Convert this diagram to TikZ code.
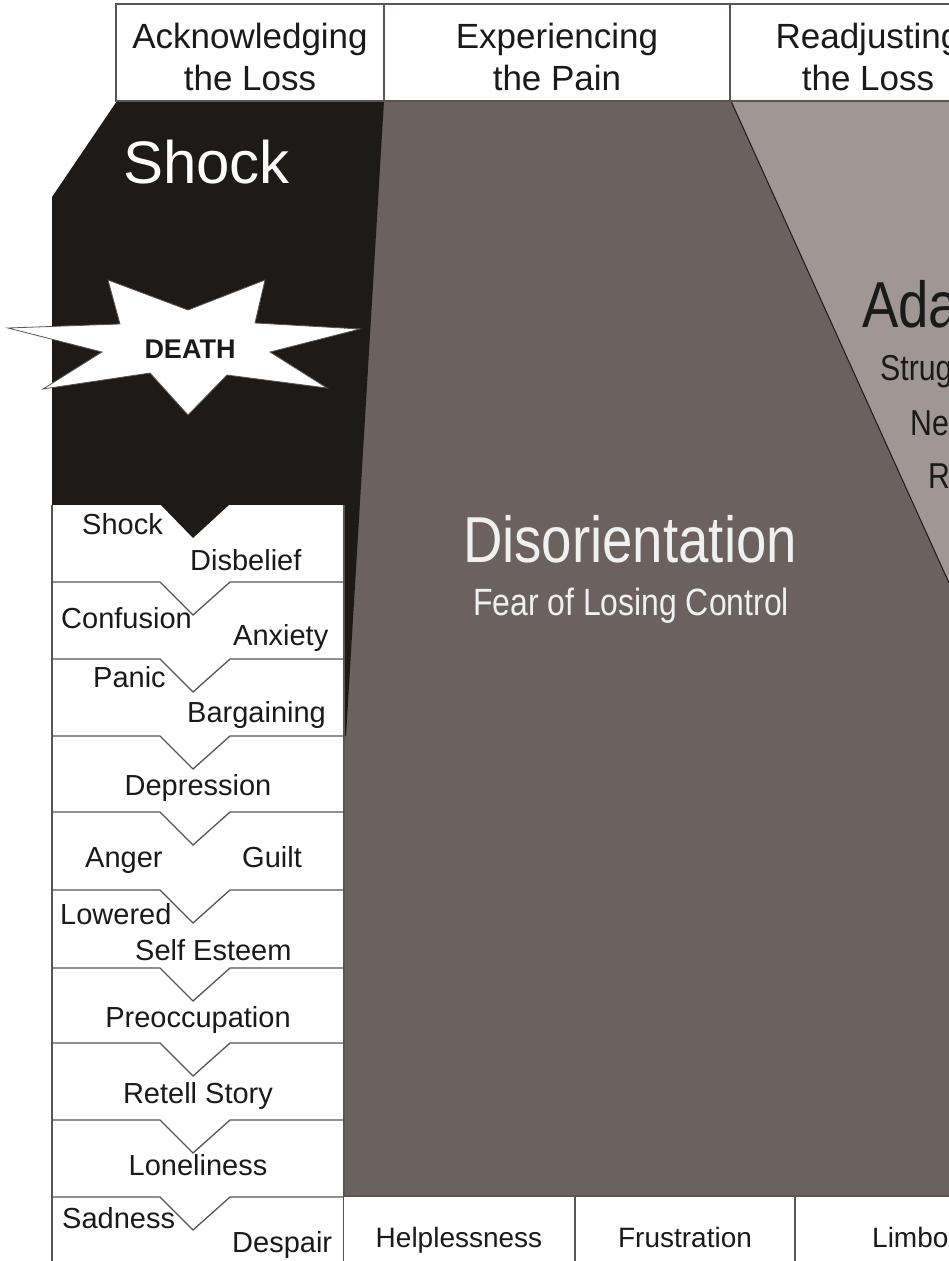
\documentclass[tikz,border=0pt]{standalone}
\usepackage{fontspec}
\setmainfont{Liberation Sans}
\newfontfamily\narrowfont[FakeStretch=0.84]{Liberation Sans}
\usepackage{xcolor}
\definecolor{shockblack}{HTML}{1E1A18}
\definecolor{disorgrey}{HTML}{6B625F}
\definecolor{adaptgrey}{HTML}{A09694}
\definecolor{rulegrey}{HTML}{5A5453}
\definecolor{inkblack}{HTML}{1A1A1A}

\begin{document}
\begin{tikzpicture}[x=1pt,y=-1pt,
    rule/.style={draw=rulegrey,line width=1.3pt},
    headtext/.style={inner sep=0pt,anchor=north,align=center,font=\fontsize{35}{42}\selectfont,text=inkblack},
    listtext/.style={inner sep=0pt,anchor=base west,font=\fontsize{29}{34}\selectfont,text=inkblack},
    rowtext/.style={inner sep=0pt,anchor=base,font=\fontsize{28}{34}\selectfont,text=inkblack},
    bigtext/.style={inner sep=0pt,anchor=base,font=\narrowfont\fontsize{65}{70}\selectfont},
    subtext/.style={inner sep=0pt,anchor=base,font=\narrowfont\fontsize{38}{44}\selectfont}]
        \newcommand{\listleft}{52}
        \newcommand{\listright}{344}
        \newcommand{\notchleft}{160}
        \newcommand{\notchtip}{193}
        \newcommand{\notchright}{230}
        \newcommand{\notchdepth}{33}
        \newcommand{\headbottom}{101}
        \newcommand{\rowtop}{1196}
        \useasboundingbox (0,0) rectangle (949,1261);
        \clip (0,0) rectangle (949,1261);
        % stage areas
        \fill[disorgrey] (\listright,\headbottom) rectangle (949,\rowtop);
        \fill[adaptgrey] (731,\headbottom) -- (949,\headbottom) -- (949,583) -- cycle;
        \draw[inkblack,line width=1pt] (731,\headbottom) -- (949,583);
        \fill[shockblack] (117,\headbottom) -- (384,\headbottom) -- (346,736) -- (\listleft,736) -- (\listleft,197) -- cycle;
        % header
        \fill[white] (116,4) rectangle (1000,\headbottom);
        \draw[rule] (1000,4) -- (116,4) -- (116,\headbottom) -- (1000,\headbottom);
        \draw[rule] (384,4) -- (384,\headbottom);
        \draw[rule] (730,4) -- (730,\headbottom);
        \node[headtext] (acknowledge) at (250,23) {Acknowledging\\the Loss};
        \node[headtext] (experience) at (557,23) {Experiencing\\the Pain};
        \node[headtext] (readjust) at (868,23) {Readjusting\\the Loss};
        % shock and the star
        \node[inner sep=0pt,anchor=base west,font=\fontsize{60}{66}\selectfont,text=white] (shocktitle) at (123,183) {Shock};
        \draw[fill=white,draw=rulegrey,line width=0.8pt] (8,328) -- (120,324) -- (108,280) -- (188,310) -- (265,280) -- (255,323) -- (360,329) -- (270,352) -- (327,388) -- (227,375) -- (188,415) -- (150,373) -- (43,389) -- (102,352) -- cycle;
        \node[inner sep=0pt,anchor=base,font=\bfseries\fontsize{27}{30}\selectfont,text=inkblack] (death) at (190,358) {DEATH};
        % list of reactions
        \fill[white] (\listleft,505) rectangle (\listright,1270);
        \draw[rule] (\listleft,505) -- (\listleft,1270);
        \draw[rule] (\listright,505) -- (\listright,1270);
        \fill[shockblack] (\notchleft,504) -- (\notchtip,538) -- (\notchright,504) -- cycle;
        \foreach \liney in {582,659,736,812,890,968,1043,1120,1197}
            \draw[rule] (\listleft,\liney) -- (\notchleft,\liney) -- (\notchtip,\liney+\notchdepth) -- (\notchright,\liney) -- (\listright,\liney);
        \node[listtext] (shockitem) at (82,534) {Shock};
        \node[listtext] (disbelief) at (190,570) {Disbelief};
        \node[listtext] (confusion) at (61,628) {Confusion};
        \node[listtext] (anxiety) at (233,645) {Anxiety};
        \node[listtext] (panic) at (93,687) {Panic};
        \node[listtext] (bargaining) at (187,722) {Bargaining};
        \node[listtext,anchor=base] (depression) at (198,795) {Depression};
        \node[listtext] (anger) at (85,867) {Anger};
        \node[listtext] (guilt) at (242,867) {Guilt};
        \node[listtext] (lowered) at (60,924) {Lowered};
        \node[listtext] (selfesteem) at (135,960) {Self Esteem};
        \node[listtext,anchor=base] (preoccupation) at (198,1027) {Preoccupation};
        \node[listtext,anchor=base] (retell) at (198,1103) {Retell Story};
        \node[listtext,anchor=base] (loneliness) at (198,1175) {Loneliness};
        \node[listtext] (sadness) at (62,1228) {Sadness};
        \node[listtext] (despair) at (232,1252) {Despair};
        % bottom row
        \fill[white] (\listright,\rowtop) rectangle (1000,1270);
        \draw[rule] (\listright,\rowtop) -- (1000,\rowtop);
        \draw[rule] (575,\rowtop) -- (575,1270);
        \draw[rule] (795,\rowtop) -- (795,1270);
        \node[rowtext] (helpless) at (459,1247) {Helplessness};
        \node[rowtext] (frustration) at (685,1247) {Frustration};
        \node[rowtext,anchor=base west] (limbo) at (872,1247) {Limbo};
        % disorientation and adaptation
        \node[bigtext,text=white!94!black] (disorientation) at (630,562) {Disorientation};
        \node[subtext,text=white!94!black] (fearcontrol) at (631,615) {Fear of Losing Control};
        \node[bigtext,anchor=base west,text=inkblack] (adapt) at (862,327) {Ada};
        \node[subtext,anchor=base west,font=\narrowfont\fontsize{36}{40}\selectfont,text=inkblack] (struggle) at (880,380) {Strug};
        \node[subtext,anchor=base west,font=\narrowfont\fontsize{36}{40}\selectfont,text=inkblack] (newpart) at (910,435) {Ne};
        \node[subtext,anchor=base west,font=\narrowfont\fontsize{36}{40}\selectfont,text=inkblack] (rpart) at (928,488) {R};
\end{tikzpicture}
\end{document}
